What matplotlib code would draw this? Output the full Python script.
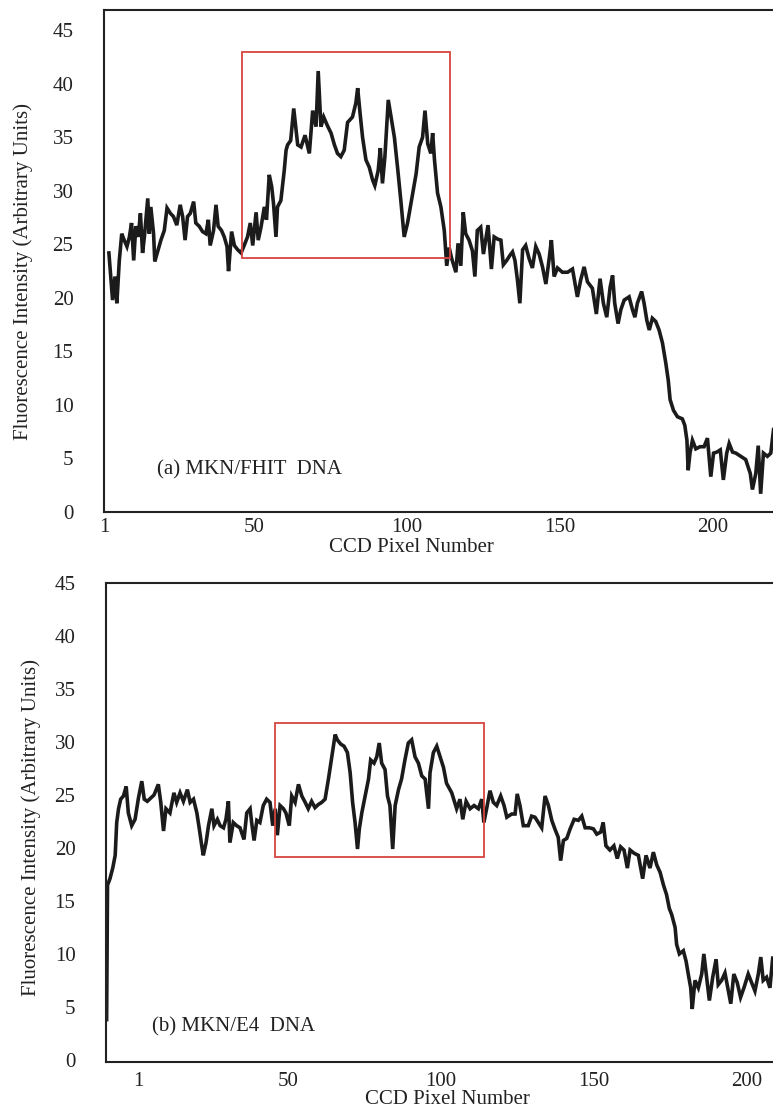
import matplotlib
matplotlib.use("Agg")
import matplotlib.pyplot as plt
from matplotlib.patches import Rectangle

# ---- (a) MKN/FHIT DNA profile ----
pixel_a = [2.6, 3.3, 3.8, 4.6, 5.2, 6.0, 6.8, 7.6, 8.5, 9.3, 10.0, 10.7, 11.4, 12.2, 12.9,
           13.6, 14.2, 15.3, 15.8, 16.3, 17.2, 17.6, 18.5, 19.6, 20.7, 21.6, 22.7, 23.7, 24.8,
           25.9, 26.7, 27.5, 28.3, 29.2, 30.3, 31.0, 32.1, 33.2, 34.3, 35.1, 35.7, 36.8, 37.6,
           38.3, 39.4, 40.3, 41.2, 41.7, 42.7, 43.6, 44.7, 45.8, 46.8, 47.9, 48.8, 49.6, 50.7,
           51.4, 52.3, 53.4, 54.1, 55.0, 55.8, 56.4, 57.2, 57.7, 58.8, 59.9, 60.5, 61.0, 62.0,
           63.0, 64.3, 65.4, 66.7, 68.1, 69.2, 70.3, 71.0, 71.9, 72.8, 74.0, 75.2, 76.3, 77.3,
           78.4, 79.5, 80.6, 82.2, 83.3, 83.9, 84.7, 85.5, 86.6, 87.7, 88.8, 89.5, 90.6, 91.3,
           92.0, 92.8, 93.9, 95.9, 97.0, 98.0, 99.1, 100.2, 101.9, 103.0, 104.0, 105.1, 105.9,
           106.8, 107.8, 108.4, 109.0, 110.0, 111.1, 112.2, 113.0, 113.8, 114.6, 116.0, 116.7,
           117.6, 118.4, 119.2, 120.3, 121.4, 122.2, 123.0, 124.1, 125.0, 126.5, 127.6, 128.5,
           129.6, 130.7, 131.5, 132.6, 133.7, 134.5, 135.3, 136.1, 136.9, 137.8, 138.8, 139.9,
           141.0, 142.1, 143.2, 144.3, 145.4, 146.5, 147.2, 148.1, 149.2, 150.8, 152.5, 154.1,
           155.7, 156.8, 157.9, 159.0, 160.6, 161.9, 163.1, 164.2, 165.3, 166.4, 167.2, 167.9,
           169.0, 169.9, 171.0, 172.6, 173.7, 174.5, 175.3, 176.7, 177.5, 178.4, 179.2, 180.2,
           181.3, 182.4, 183.5, 184.6, 185.4, 186.0, 187.1, 188.4, 190.0, 190.8, 191.5, 191.9,
           192.5, 193.3, 194.4, 195.8, 197.1, 198.2, 199.3, 200.2, 201.3, 202.4, 203.4, 204.5,
           205.3, 206.4, 207.5, 209.1, 210.7, 212.2, 212.9, 214.0, 214.8, 215.6, 216.5, 217.8,
           218.9, 219.8]
intensity_a = [24.2, 21.7, 19.8, 22.0, 19.5, 23.5, 26.0, 25.4, 24.8, 25.7, 27.0, 23.5, 26.7, 25.7, 27.9,
               24.2, 25.7, 29.3, 26.0, 28.5, 26.0, 23.4, 24.3, 25.4, 26.3, 28.4, 27.9, 27.6, 26.8,
               28.7, 27.6, 25.4, 27.6, 27.9, 29.0, 27.0, 26.7, 26.2, 26.0, 27.3, 24.9, 26.3, 28.7,
               26.7, 26.3, 25.7, 24.8, 22.5, 26.2, 24.9, 24.5, 24.2, 24.9, 25.7, 27.0, 24.9, 28.0,
               25.4, 26.6, 28.5, 27.3, 31.5, 30.4, 28.8, 25.7, 28.5, 29.1, 31.9, 33.8, 34.3, 34.7,
               37.7, 34.3, 34.1, 35.2, 33.5, 37.5, 36.0, 41.2, 36.0, 36.9, 36.1, 35.4, 34.3, 33.5,
               33.2, 33.8, 36.4, 36.9, 38.2, 39.6, 37.2, 35.0, 32.9, 32.2, 31.0, 30.5, 31.9, 34.0,
               30.7, 33.2, 38.5, 35.0, 32.0, 29.1, 25.7, 27.0, 29.8, 31.6, 34.1, 35.0, 37.5,
               34.4, 33.5, 35.4, 32.9, 29.8, 28.5, 26.3, 23.0, 24.7, 23.7, 22.4, 25.1,
               23.0, 28.0, 26.0, 25.4, 24.4, 22.0, 26.3, 26.6, 24.1, 26.8, 22.7, 25.7,
               25.5, 25.4, 23.1, 23.5, 24.0, 24.3, 23.5, 21.7, 19.5, 24.5, 24.9, 23.7,
               22.8, 24.8, 24.1, 22.9, 21.3, 23.7, 25.4, 22.0, 22.8, 22.4, 22.4, 22.7,
               20.1, 21.7, 22.9, 21.5, 20.9, 18.5, 21.8, 19.5, 18.2, 21.0, 22.1, 19.5,
               17.6, 18.9, 19.8, 20.1, 18.9, 18.2, 19.5, 20.6, 19.5, 17.9, 17.0, 18.1,
               17.8, 17.0, 15.8, 13.9, 12.3, 10.5, 9.5, 8.9, 8.7, 8.1, 6.7, 3.9,
               5.5, 6.7, 5.9, 6.1, 6.1, 6.9, 3.3, 5.5, 5.6, 5.8, 3.0, 5.5,
               6.4, 5.6, 5.5, 5.2, 4.9, 3.6, 2.1, 3.6, 6.2, 1.7, 5.5, 5.2,
               5.5, 7.7]

# ---- (b) MKN/E4 DNA profile ----
pixel_b = [-9.3, -9.0, -8.2, -7.3, -6.5, -6.0, -5.4, -4.7, -3.8, -2.9, -2.2, -1.1, 0.0, 1.1, 2.2,
           3.0, 4.0, 5.1, 6.2, 7.6, 8.4, 9.3, 10.1, 11.4, 12.7, 13.6, 14.7, 15.8, 17.1, 18.0,
           19.1, 20.2, 21.0, 21.8, 22.3, 23.2, 24.0, 25.1, 25.8, 26.9, 27.8, 28.9, 29.7, 30.5,
           31.0, 32.1, 33.2, 34.3, 35.6, 36.5, 37.6, 38.1, 38.9, 39.8, 40.8, 41.9, 43.0, 44.1,
           45.0, 45.8, 46.5, 47.4, 48.5, 49.3, 50.4, 51.2, 52.3, 53.4, 54.5, 55.6, 56.6, 57.7,
           58.8, 59.9, 61.0, 62.1, 63.2, 64.3, 65.4, 66.1, 67.2, 68.3, 69.4, 70.3, 71.1, 71.9,
           72.7, 73.3, 74.1, 75.2, 76.3, 77.0, 78.1, 79.0, 79.8, 80.6, 81.7, 82.5, 83.3, 84.2,
           85.0, 86.1, 87.1, 88.2, 89.3, 90.4, 91.5, 92.6, 93.7, 94.8, 95.9, 96.4, 97.5, 98.6,
           99.7, 100.8, 101.8, 103.5, 105.1, 106.2, 107.1, 108.2, 109.5, 110.8, 112.2, 113.3,
           114.0, 114.9, 116.0, 117.1, 118.2, 119.5, 120.6, 121.5, 123.1, 124.2, 124.9, 125.8,
           126.9, 128.5, 129.6, 130.7, 131.8, 132.9, 134.0, 135.1, 136.2, 137.2, 138.3, 139.1,
           140.0, 141.1, 142.2, 143.5, 144.9, 146.0, 147.1, 148.5, 149.8, 150.9, 152.2, 153.0,
           153.9, 155.2, 156.5, 157.6, 158.7, 159.8, 160.9, 161.8, 163.1, 164.5, 165.9, 167.0,
           168.3, 169.4, 170.5, 171.6, 172.7, 173.7, 174.6, 175.4, 176.5, 177.0, 177.9, 179.2,
           180.1, 180.8, 181.6, 182.1, 183.0, 184.1, 185.2, 185.9, 186.8, 187.7, 188.8, 189.9,
           190.6, 191.7, 192.8, 193.9, 194.7, 195.7, 196.8, 197.9, 199.0, 200.4, 201.5, 202.6,
           203.7, 204.5, 205.3, 206.4, 207.5, 208.4]
intensity_b = [3.8, 16.5, 17.1, 18.1, 19.3, 22.4, 23.7, 24.6, 24.9, 25.8, 23.3, 22.1, 22.7, 24.7, 26.3,
               24.6, 24.4, 24.7, 25.0, 26.0, 24.3, 21.6, 23.7, 23.3, 25.2, 24.3, 25.2, 24.4, 25.5, 24.3,
               24.6, 23.3, 21.8, 20.2, 19.3, 20.5, 22.1, 23.7, 22.1, 22.7, 22.1, 21.9, 22.7, 24.4,
               20.5, 22.4, 22.1, 21.9, 20.8, 23.3, 23.7, 22.4, 20.7, 22.6, 22.4, 24.0, 24.6, 24.3,
               22.1, 23.7, 21.2, 24.0, 23.7, 23.3, 22.1, 24.9, 24.3, 26.0, 24.9, 24.3, 23.7, 24.4,
               23.8, 24.1, 24.3, 24.6, 26.5, 28.6, 30.7, 30.2, 29.8, 29.6, 29.0, 27.1, 24.3, 22.4,
               19.9, 21.8, 23.3, 24.9, 26.5, 28.3, 28.0, 28.6, 29.9, 28.0, 27.4, 24.9, 24.0, 19.9,
               24.0, 25.5, 26.5, 28.3, 29.9, 30.2, 28.6, 28.0, 26.8, 26.5, 23.7, 27.1, 29.0, 29.6,
               28.6, 27.6, 26.1, 25.2, 23.7, 24.6, 22.7, 24.4, 23.7, 24.0, 23.7, 24.6,
               22.4, 23.7, 25.4, 24.3, 24.0, 24.9, 24.0, 22.9, 23.2, 23.2, 25.1, 24.0,
               22.1, 22.1, 23.0, 22.9, 22.4, 21.9, 24.9, 24.0, 22.6, 21.8, 21.0, 18.8,
               20.7, 20.9, 21.8, 22.7, 22.6, 23.0, 21.9, 21.9, 21.8, 21.3, 21.5, 22.4,
               20.2, 19.8, 20.2, 19.0, 20.1, 19.8, 18.1, 19.8, 19.5, 19.3, 17.1, 19.3,
               18.1, 19.6, 18.4, 17.7, 16.5, 15.6, 14.3, 13.7, 12.5, 10.9, 10.0, 10.3,
               9.3, 8.1, 6.8, 4.8, 7.5, 6.8, 8.1, 10.0, 7.8, 5.6, 7.8, 9.5,
               7.1, 7.5, 8.2, 6.5, 5.3, 8.1, 7.3, 5.9, 6.8, 8.1, 7.3, 6.5,
               8.1, 9.7, 7.5, 7.8, 6.8, 9.6]

x_ticks = [1, 50, 100, 150, 200]
y_ticks = [0, 5, 10, 15, 20, 25, 30, 35, 40, 45]

# highlighted regions: (x0, x1, y0, y1)
box_a = (46.0, 114.1, 23.7, 43.0)
box_b = (45.8, 114.0, 19.1, 31.8)

label_a = "(a) MKN/FHIT  DNA"
label_b = "(b) MKN/E4  DNA"
x_title = "CCD Pixel Number"
y_title = "Fluorescence Intensity (Arbitrary Units)"

plt.rcParams["font.family"] = ["Liberation Serif", "DejaVu Serif"]
FS = 15
LINE = "#1b1b1b"
RED = "#d9443f"

fig = plt.figure(figsize=(7.73, 11.12), dpi=100)
W, H = 773.0, 1112.0

ax_a = fig.add_axes([104 / W, 1 - 512 / H, 1 - 104 / W, (512 - 10) / H])
ax_b = fig.add_axes([106 / W, 1 - 1062 / H, 1 - 106 / W, (1062 - 583) / H])

panels = [
    (ax_a, pixel_a, intensity_a, box_a, label_a, (1.0, 1 + (773 - 104) / 3.06), (0, 46.9),
     (18.3, 3.9), 4),
    (ax_b, pixel_b, intensity_b, box_b, label_b, (-9.5, 208.5), (-0.2, 44.5),
     (5.6, 3.1), 7),
]

for ax, xs, ys, box, lab, xl, yl, lab_pos, xpad in panels:
    ax.plot(xs, ys, color=LINE, lw=2.6, solid_joinstyle="miter")
    x0, x1, y0, y1 = box
    ax.add_patch(Rectangle((x0, y0), x1 - x0, y1 - y0, fill=False,
                           edgecolor=RED, lw=1.3, zorder=3))
    ax.set_xlim(*xl)
    ax.set_ylim(*yl)
    ax.set_xticks(x_ticks)
    ax.set_yticks(y_ticks)
    ax.tick_params(axis="both", length=0, labelsize=FS, colors="#222222")
    ax.tick_params(axis="y", pad=22)
    ax.tick_params(axis="x", pad=xpad)
    ax.spines["right"].set_visible(False)
    for s in ("left", "top", "bottom"):
        ax.spines[s].set_linewidth(1.5)
        ax.spines[s].set_color("#222222")
    ax.text(lab_pos[0], lab_pos[1], lab, fontsize=FS, va="center", ha="left",
            color="#222222")

# axis titles placed in figure coordinates
fig.text(411 / W, 1 - 548 / H, x_title, fontsize=FS, ha="center", va="center", color="#222222")
fig.text(447 / W, 1 - 1100 / H, x_title, fontsize=FS, ha="center", va="center", color="#222222")
fig.text(23 / W, 1 - 271 / H, y_title, fontsize=FS, rotation=90, ha="center", va="center",
         color="#222222")
fig.text(31 / W, 1 - 827 / H, y_title, fontsize=FS, rotation=90, ha="center", va="center",
         color="#222222")

fig.savefig("out.png", dpi=100)
